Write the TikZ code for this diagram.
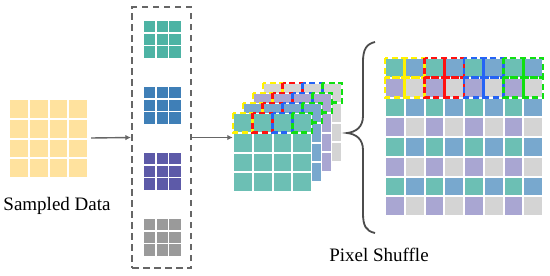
\documentclass[tikz,border=0pt]{standalone}
\usepackage{fontspec}
\setmainfont{Liberation Serif}
\usetikzlibrary{arrows.meta}
\definecolor{inyel}{HTML}{FFE29E}
\definecolor{bteal}{HTML}{4DB3A4}
\definecolor{bblue}{HTML}{3F7FB7}
\definecolor{bpur}{HTML}{5D5AA8}
\definecolor{bgray}{HTML}{9A9A9A}
\definecolor{cteal}{HTML}{6CBFB4}
\definecolor{cblue}{HTML}{78A8CE}
\definecolor{cpur}{HTML}{A9A6D2}
\definecolor{cgray}{HTML}{D4D4D4}
\definecolor{dy}{HTML}{FFF200}
\definecolor{dr}{HTML}{FF1010}
\definecolor{db}{HTML}{2563F5}
\definecolor{dg}{HTML}{10E010}
\definecolor{linegray}{HTML}{666666}
\tikzset{
  dashbox/.style={draw=linegray, line width=2.2pt, dash pattern=on 6.5pt off 4.5pt, inner sep=0pt},
  cdash/.style={line width=2.6pt, dash pattern=on 6pt off 3.5pt},
  conn/.style={draw=linegray, line width=1.4pt, -{Latex[length=5.5pt,width=5.5pt]}},
  lbl/.style={font=\fontsize{19}{21}\selectfont, text=black, inner sep=0pt},
  ghost/.style={inner sep=0pt, minimum width=79pt, minimum height=79pt},
  bracestyle/.style={draw=black!70, line width=1.8pt}
}
\begin{document}
\begin{tikzpicture}[x=1pt,y=-1pt]
\useasboundingbox (0,0) rectangle (550,276);
% input grid
\node[ghost] (ingrid) at (48.5,138) {};
\foreach \i in {0,...,3}
  \foreach \j in {0,...,3}
    \fill[inyel] ({9+\i*19.75+1},{99+\j*19.75+1}) rectangle ++(17.75,17.75);
\node[lbl] (t1) at (57,206) {Sampled Data};
% dashed box with small grids
\node[dashbox, minimum width=59pt, minimum height=261pt] (dbox) at (161.5,137.5) {};
\foreach \y/\col in {20/bteal,86/bblue,152/bpur,218/bgray}
  \foreach \i in {0,...,2}
    \foreach \j in {0,...,2}
      \fill[\col] ({143+\i*12.8+0.8},{\y+\j*12.8+0.8}) rectangle ++(11.4,11.4);
% stack of layers
\foreach \k/\col in {3/cgray,2/cpur,1/cblue,0/cteal}{
  \fill[white] ({233+10*\k},{113-10*\k}) rectangle ++(79,79);
  \foreach \i in {0,...,3}
    \foreach \j in {0,...,3}
      \fill[\col] ({233+10*\k+\i*19.75+1},{113-10*\k+\j*19.75+1}) rectangle ++(17.75,17.75);
  \foreach \c/\dc in {0/dy,1/dr,2/db,3/dg}
    \draw[cdash,\dc] ({233+10*\k+\c*19.75},{113-10*\k}) rectangle ++(19.75,19.75);
}
\node[ghost] (front) at (272.5,152.5) {};
% output grid
\foreach \r in {0,2,4,6}
  \foreach \c in {0,2,4,6}{
    \fill[cteal] ({385+\c*19.75+1},{58+\r*19.75+1}) rectangle ++(17.75,17.75);
    \fill[cblue] ({385+(\c+1)*19.75+1},{58+\r*19.75+1}) rectangle ++(17.75,17.75);
    \fill[cpur] ({385+\c*19.75+1},{58+(\r+1)*19.75+1}) rectangle ++(17.75,17.75);
    \fill[cgray] ({385+(\c+1)*19.75+1},{58+(\r+1)*19.75+1}) rectangle ++(17.75,17.75);
  }
\foreach \c/\dc in {0/dy,1/dy,2/dr,3/dr,4/db,5/db,6/dg,7/dg}
  \foreach \r in {0,1}
    \draw[cdash,\dc] ({385+\c*19.75},{58+\r*19.75}) rectangle ++(19.75,19.75);
\node[inner sep=0pt, minimum width=158pt, minimum height=158pt] (outgrid) at (464,137) {};
% brace
\draw[bracestyle] (375,42) .. controls (366,44) and (363,50) .. (363,62) -- (363,116)
  .. controls (363,127) and (356,132) .. (347,133)
  .. controls (356,134) and (363,139) .. (363,150) -- (363,213)
  .. controls (363,226) and (366,231) .. (375,233);
\node[lbl] (t2) at (379,255) {Pixel Shuffle};
% connectors
\draw[conn] (ingrid.east) ++(3,0) -- (dbox.west);
\draw[conn] (dbox.east) -- (dbox.east -| front.west);
\end{tikzpicture}
\end{document}
